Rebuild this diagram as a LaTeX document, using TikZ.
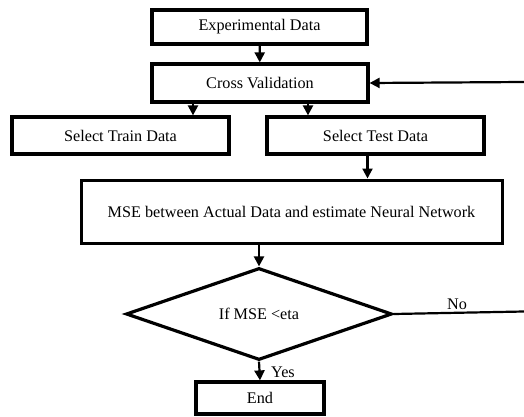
\documentclass[tikz,border=0pt]{standalone}
\usepackage{fontspec}
\setmainfont{Liberation Serif}
\usetikzlibrary{calc,shapes.geometric,arrows.meta}

\begin{document}
\begin{tikzpicture}[x=1pt,y=-1pt,
  font=\fontsize{16.2}{19}\selectfont,
  box/.style={draw,line width=3.2pt,inner sep=0pt},
  decision/.style={draw,diamond,line width=3.2pt,inner sep=0pt,aspect=2.9},
  arr/.style={line width=2.2pt,-{Triangle[length=10pt,width=10pt]}}]

\useasboundingbox (0,0) rectangle (524,417);

% Define boxes
\node[box,minimum width=215pt,minimum height=34pt] (exp) at (259.5,27) {Experimental Data};
\node[box,minimum width=216pt,minimum height=38pt] (cross) at (260,83) {Cross Validation};
\node[box,minimum width=217pt,minimum height=37pt] (train) at (120.5,135.5) {Select Train Data};
\node[box,minimum width=217pt,minimum height=37pt] (test) at (375.5,135.5) {Select Test Data};
\node[box,line width=3pt,minimum width=421pt,minimum height=63pt] (mse) at (291.5,211.5) {MSE between Actual Data and estimate Neural Network};
\node[decision,minimum width=266pt,minimum height=92pt] (dec) at (259,314) {If MSE <eta};
\node[box,minimum width=128pt,minimum height=32pt] (end) at (260,398) {End};

% Loose ends at the right border
\coordinate (back) at (524,82);
\coordinate (noend) at (524,311.5);

% Connectors
\draw[arr] (exp) -- (cross);
\draw[arr] ([xshift=-67pt]cross.south) -- ([xshift=-67pt]cross.south |- train.north);
\draw[arr] ([xshift=48pt]cross.south) -- ([xshift=48pt]cross.south |- test.north);
\draw[arr] ([xshift=-8pt]test.south) -- ([xshift=-8pt]test.south |- mse.north);
\draw[arr] (mse.south -| dec.north) -- (dec.north);
\draw[arr] (dec.south) -- (end.north);
\draw[line width=2.2pt] (dec.east) -- (noend);
\draw[arr] (back) -- (cross.east);

% Branch labels
\node at (457,304) {No};
\node at (283,372) {Yes};

\end{tikzpicture}
\end{document}
